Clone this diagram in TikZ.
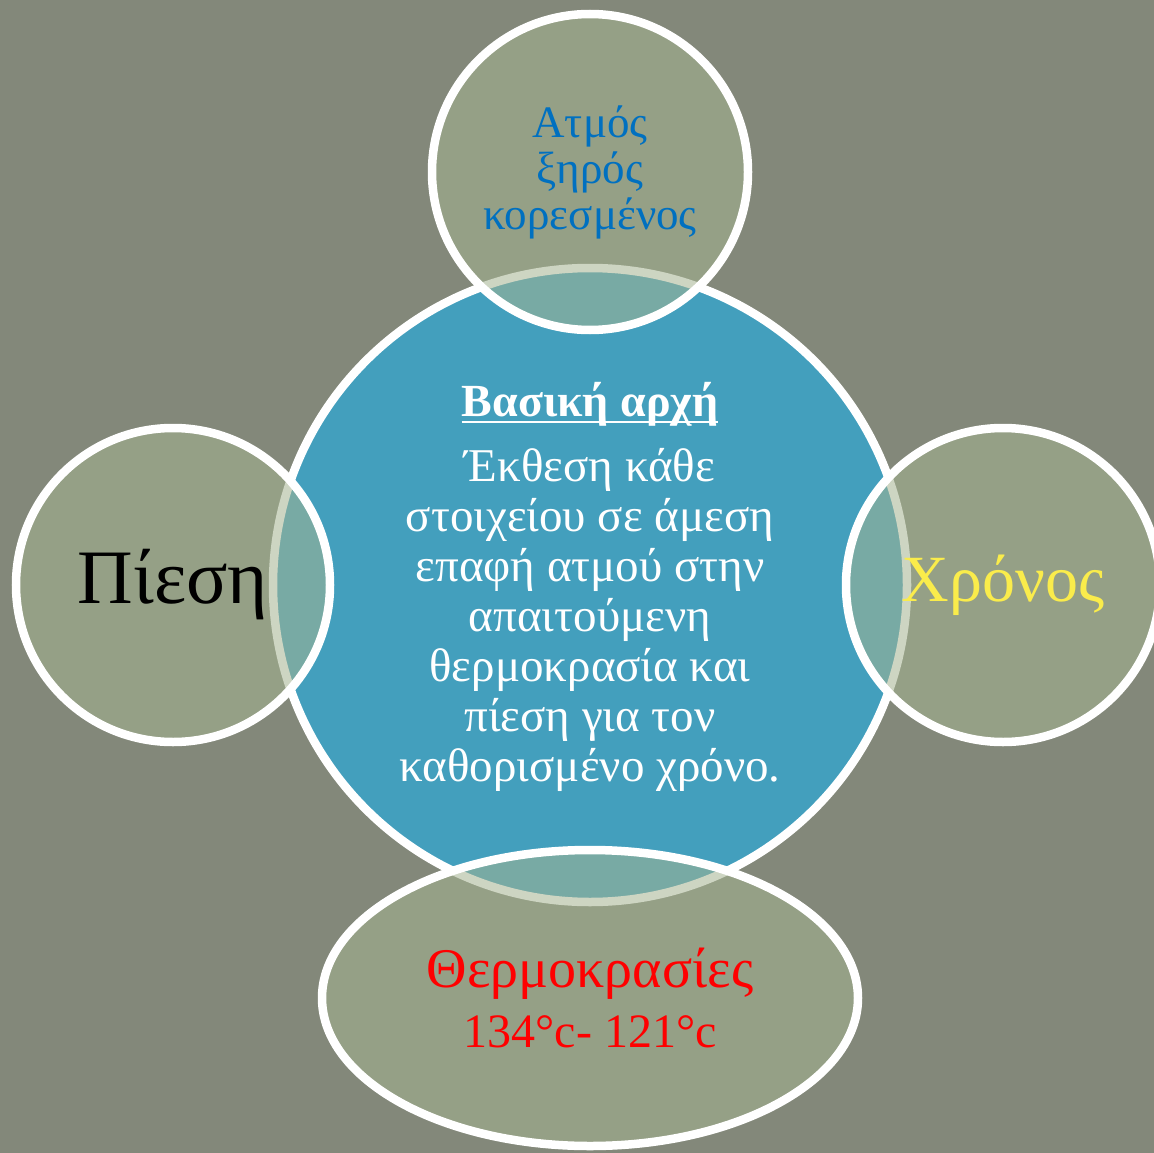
\documentclass[tikz,border=0pt]{standalone}
\usepackage{fontspec}
\setmainfont{Liberation Serif}
\usetikzlibrary{shapes.geometric}
\definecolor{bgc}{RGB}{131,136,122}
\definecolor{hubc}{RGB}{67,159,189}
\definecolor{satc}{RGB}{165,180,145}
\definecolor{tblue}{RGB}{0,112,192}
\definecolor{tyel}{RGB}{250,236,75}
\begin{document}
\begin{tikzpicture}[x=1pt,y=-1pt,
  hubstyle/.style={circle, inner sep=0pt, fill=hubc, draw=white, line width=8.5pt},
  satstyle/.style={inner sep=0pt, fill=satc, fill opacity=0.55, draw=white, draw opacity=1, text opacity=1, line width=8.5pt, align=center},
  sat/.style={satstyle, circle},
  satell/.style={satstyle, ellipse}]
\fill[bgc] (0,0) rectangle (1154,1153);
\useasboundingbox (0,0) rectangle (1154,1153);
\node[hubstyle, minimum size=634pt] (hub) at (590,585) {};
\node[sat, minimum size=316pt, text=tblue, font=\fontsize{45}{46}\selectfont] (steam) at (590,172) {Ατμός\\ξηρός\\κορεσμένος};
\node[sat, minimum size=314pt, text=black, font=\fontsize{77}{80}\selectfont] (press) at (173,585) {Πίεση};
\node[sat, minimum size=314pt, text=tyel, font=\fontsize{66}{70}\selectfont] (time) at (1003,585) {Χρόνος};
\node[satell, minimum width=536pt, minimum height=296pt, text=red, font=\fontsize{56}{60}\selectfont] (temp) at (590,998) {Θερμοκρασίες\\{\fontsize{48}{60}\selectfont 134°c- 121°c}};
\node[inner sep=0pt, anchor=base, text=white, font=\fontsize{46}{50}\selectfont\bfseries] (title) at (590,416) {Βασική αρχή};
\draw[white, line width=2.5pt] ([yshift=-6pt]title.base west) -- ([yshift=-6pt]title.base east);
\node[inner sep=0pt, align=center, text=white, font=\fontsize{47}{50}\selectfont] (body) at (590,620) {Έκθεση κάθε\\στοιχείου σε άμεση\\επαφή ατμού στην\\απαιτούμενη\\θερμοκρασία και\\πίεση για τον\\καθορισμένο χρόνο.};
\end{tikzpicture}
\end{document}
